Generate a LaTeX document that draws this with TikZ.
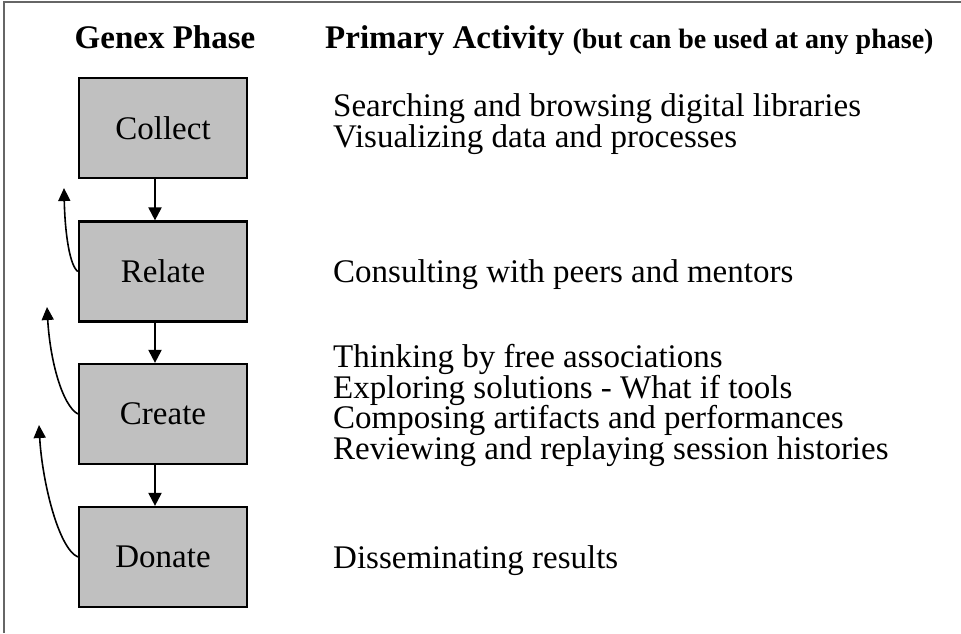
\documentclass[tikz,border=0pt]{standalone}
\usepackage{fontspec}
\setmainfont{Liberation Serif}
\usetikzlibrary{arrows.meta}

\begin{document}
\begin{tikzpicture}[x=1pt,y=-1pt]
	\tikzstyle{phase} = [rectangle,draw,line width=2.2pt,fill={rgb,255:red,192;green,192;blue,192},
		minimum width=168pt,minimum height=100pt,inner sep=0pt,font=\fontsize{33}{30}\selectfont]
	\tikzstyle{activity} = [anchor=base west,align=left,inner sep=0pt,font=\fontsize{33}{30.5}\selectfont]
	\tikzstyle{head} = [anchor=base,inner sep=0pt,font=\bfseries\fontsize{33}{33}\selectfont]
	\tikzstyle{down} = [-{Triangle[length=13pt,width=13pt]},line width=2pt]
	\tikzstyle{back} = [-{Triangle[length=13pt,width=12pt]},line width=1.6pt]

	\useasboundingbox (0,0) rectangle (961,633);
	\draw[line width=1.5pt,black!60] (4,633) -- (4,2) -- (961,2);

	% column heads
	\node[head] (h1) at (165,48) {Genex Phase};
	\node[head,anchor=base west] (h2) at (325,48) {Primary Activity {\fontsize{28}{28}\selectfont (but can be used at any phase)}};

	% phases
	\node[phase] (collect) at (163,128) {Collect};
	\node[phase] (relate)  at (163,271.5) {Relate};
	\node[phase] (create)  at (163,414) {Create};
	\node[phase] (donate)  at (163,557) {Donate};

	% activities (base = last line)
	\node[activity] (a1) at (333,147) {Searching and browsing digital libraries\\Visualizing data and processes};
	\node[activity] (a2) at (333,282) {Consulting with peers and mentors};
	\node[activity] (a3) at (333,459) {Thinking by free associations\\Exploring solutions - What if tools\\Composing artifacts and performances\\Reviewing and replaying session histories};
	\node[activity] (a4) at (333,568) {Disseminating results};

	\path[down] ([xshift=-8pt]collect.south) edge ([xshift=-8pt]relate.north);
	\path[down] ([xshift=-8pt]relate.south) edge ([xshift=-8pt]create.north);
	\path[down] ([xshift=-8pt]create.south) edge ([xshift=-8pt]donate.north);

	% loops back
	\coordinate (t1) at (64,188);
	\coordinate (t2) at (47,307);
	\coordinate (t3) at (39,425);
	\draw[back] (relate.west) .. controls (70,266) and (65,235) .. (t1);
	\draw[back] (create.west) .. controls (62,405) and (50,360) .. (t2);
	\draw[back] (donate.west) .. controls (58,548) and (42,480) .. (t3);
\end{tikzpicture}
\end{document}
